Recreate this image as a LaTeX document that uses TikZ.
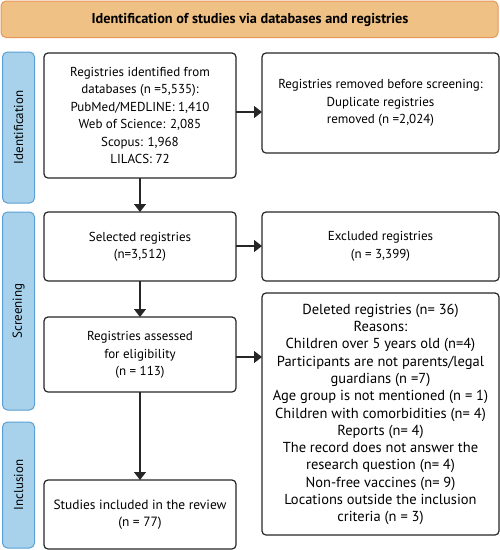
\documentclass[tikz,border=0pt]{standalone}
\usepackage{fontspec}
\setmainfont{PT Sans}
\usetikzlibrary{arrows.meta}
\definecolor{bannerfill}{HTML}{EFC185}
\definecolor{bannerdraw}{HTML}{E8955A}
\definecolor{sidefill}{HTML}{A8D2EB}
\definecolor{sidedraw}{HTML}{5AA0D6}
\begin{document}
\begin{tikzpicture}[x=1pt,y=-1pt,
  box/.style={draw=black!85,line width=1.2pt,rounded corners=4pt,fill=white},
  side/.style={draw=sidedraw,fill=sidefill,line width=1pt,rounded corners=5pt},
  txt/.style={font=\fontsize{13}{17.4}\selectfont,align=center,inner sep=0pt},
  arr/.style={-{Triangle[length=8pt,width=12pt]},line width=1.2pt,draw=black!85}]
\useasboundingbox (0,0) rectangle (500,550);
% banner
\draw[draw=bannerdraw,fill=bannerfill,line width=1pt,rounded corners=5pt] (1,1) rectangle (498,37.5);
\node[txt,font=\fontsize{14.3}{16}\selectfont\bfseries] (title) at (250,19.5) {Identification of studies via databases and registries};
% side labels
\draw[side] (2.5,52) rectangle (34.5,203);
\node[txt,rotate=90] (lid) at (18.5,127.5) {Identification};
\draw[side] (2.5,212) rectangle (34.5,410);
\node[txt,rotate=90] (lsc) at (18.5,311) {Screening};
\draw[side] (2.5,422) rectangle (34.5,548);
\node[txt,rotate=90] (lin) at (18.5,485) {Inclusion};
% boxes
\draw[box] (44,53) rectangle (236,178);
\node[txt] (b1) at (140,115.5) {Registries identified from\\databases (n =5,535):\\PubMed/MEDLINE: 1,410\\Web of Science: 2,085\\Scopus: 1,968\\LILACS: 72};
\coordinate (b1r) at (236,112);
\coordinate (b1b) at (140,178);
\draw[box] (262,53) rectangle (499,153);
\node[txt] (r1) at (380.5,103) {Registries removed before screening:\\Duplicate registries\\removed (n =2,024)};
\coordinate (r1l) at (262,112);

\draw[box] (44,212) rectangle (236,281);
\node[txt] (b2) at (140,246.5) {Selected registries\\(n=3,512)};
\coordinate (b2t) at (140,212);
\coordinate (b2r) at (236,246);
\coordinate (b2b) at (140,281);
\draw[box] (262,212) rectangle (499,281);
\node[txt] (r2) at (380.5,246.5) {Excluded registries\\(n = 3,399)};
\coordinate (r2l) at (262,246);

\draw[box] (44,317) rectangle (236,392);
\node[txt] (b3) at (140,355) {Registries assessed\\for eligibility\\(n = 113)};
\coordinate (b3t) at (140,317);
\coordinate (b3r) at (236,357);
\coordinate (b3b) at (140,392);
\draw[box] (262,293) rectangle (499,535);
\node[txt,font=\fontsize{14.5}{17.3}\selectfont] (r3) at (380.5,414.5) {Deleted registries (n= 36)\\Reasons:\\Children over 5 years old (n=4)\\Participants are not parents/legal\\guardians (n =7)\\Age group is not mentioned (n = 1)\\Children with comorbidities (n= 4)\\Reports (n= 4)\\The record does not answer the\\research question (n= 4)\\Non-free vaccines (n= 9)\\Locations outside the inclusion\\criteria (n = 3)};
\coordinate (r3l) at (262,357);

\draw[box] (44,480) rectangle (236,549);
\node[txt,font=\fontsize{13.4}{17.4}\selectfont] (b4) at (140,514.5) {Studies included in the review\\(n = 77)};
\coordinate (b4t) at (140,480);
% arrows
\draw[arr] (b1r) -- (r1l);
\draw[arr] (b1b) -- (b2t);
\draw[arr] (b2r) -- (r2l);
\draw[arr] (b2b) -- (b3t);
\draw[arr] (b3r) -- (r3l);
\draw[arr] (b3b) -- (b4t);
\end{tikzpicture}
\end{document}
